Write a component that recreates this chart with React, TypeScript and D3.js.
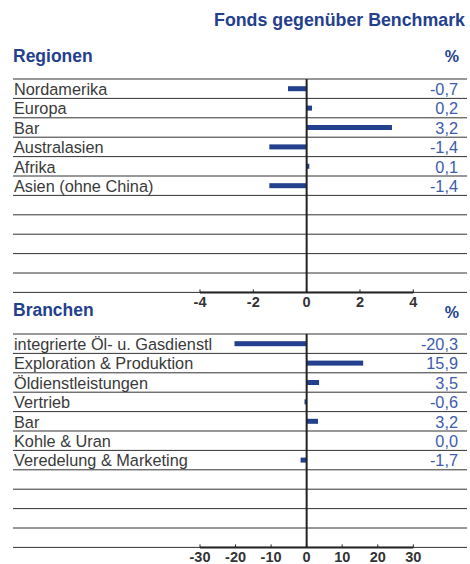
import React from "react";
import * as d3 from "d3";

const title = "Fonds gegenüber Benchmark";
const regionCategories = ["Nordamerika", "Europa", "Bar", "Australasien", "Afrika", "Asien (ohne China)"];
const regionValues = [-0.7, 0.2, 3.2, -1.4, 0.1, -1.4];
const regionTicks = [-4, -2, 0, 2, 4];
const sectorCategories = [
  "integrierte Öl- u. Gasdienstl",
  "Exploration & Produktion",
  "Öldienstleistungen",
  "Vertrieb",
  "Bar",
  "Kohle & Uran",
  "Veredelung & Marketing",
];
const sectorValues = [-20.3, 15.9, 3.5, -0.6, 3.2, 0.0, -1.7];
const sectorTicks = [-30, -20, -10, 0, 10, 20, 30];

const W = 470;
const H = 564;
const LEFT = 13;
const RIGHT = 467;
const ROWS = 11;
const ROW_H = 19.4;
const BLUE = "#23408e";
const VALUE_BLUE = "#3d5cab";
const TEXT = "#3a3a3a";
const LINE = "#333";
const FONT = "'Liberation Sans', Arial, sans-serif";

const fmt = (v: number) => v.toFixed(1).replace(".", ",");

function Panel({
  top,
  heading,
  headingY,
  pctY,
  categories,
  values,
  ticks,
}: {
  top: number;
  heading: string;
  headingY: number;
  pctY: number;
  categories: string[];
  values: number[];
  ticks: number[];
}) {
  const ext = d3.max(ticks.map(Math.abs)) as number;
  const x = d3.scaleLinear().domain([-ext, ext]).range([200, 413.3]);
  const y = d3.scaleLinear().domain([0, ROWS]).range([top, top + ROWS * ROW_H]);
  const bottom = y(ROWS);
  return (
    <g>
      <text x={LEFT} y={headingY} fill={BLUE} fontWeight="bold" fontSize={17.5} fontFamily={FONT}>
        {heading}
      </text>
      <text x={459} y={pctY} fill={BLUE} fontWeight="bold" fontSize={16} fontFamily={FONT} textAnchor="end">
        %
      </text>
      {d3.range(ROWS + 1).map((i) => (
        <line key={"l" + i} x1={LEFT} x2={RIGHT} y1={y(i)} y2={y(i)} stroke={LINE} strokeWidth={1} />
      ))}
      {categories.map((c, i) => (
        <g key={c}>
          <text x={LEFT + 1} y={y(i + 1) - 3.5} fill={TEXT} fontSize={16.3} fontFamily={FONT}>
            {c}
          </text>
          <rect
            x={Math.min(x(0), x(values[i]))}
            y={(y(i) + y(i + 1)) / 2 - 2.5}
            width={Math.abs(x(values[i]) - x(0))}
            height={5}
            fill={BLUE}
          />
          <text x={458} y={y(i + 1) - 3.5} fill={VALUE_BLUE} fontSize={16.3} fontFamily={FONT} textAnchor="end">
            {fmt(values[i])}
          </text>
        </g>
      ))}
      <line x1={x(0)} x2={x(0)} y1={top} y2={bottom} stroke="#222" strokeWidth={2} />
      <line x1={x(-ext)} x2={x(ext)} y1={bottom} y2={bottom} stroke="#222" strokeWidth={2} />
      {ticks.map((t) => (
        <g key={t}>
          <line x1={x(t)} x2={x(t)} y1={bottom} y2={bottom - 3} stroke="#222" strokeWidth={1} />
          <text
            x={x(t)}
            y={bottom + 14.5}
            fill="#333"
            fontSize={14.5}
            fontWeight="bold"
            fontFamily={FONT}
            textAnchor="middle"
          >
            {t}
          </text>
        </g>
      ))}
    </g>
  );
}

export default function App() {
  return (
    <svg
      width={W}
      height={H}
      style={{ position: "absolute", left: 0, top: 0, background: "#fff" }}
    >
      <text x={465} y={26} fill={BLUE} fontWeight="bold" fontSize={17.8} fontFamily={FONT} textAnchor="end">
        {title}
      </text>
      <Panel
        top={79}
        heading="Regionen"
        headingY={62}
        pctY={62}
        categories={regionCategories}
        values={regionValues}
        ticks={regionTicks}
      />
      <Panel
        top={334}
        heading="Branchen"
        headingY={316}
        pctY={318}
        categories={sectorCategories}
        values={sectorValues}
        ticks={sectorTicks}
      />
    </svg>
  );
}
